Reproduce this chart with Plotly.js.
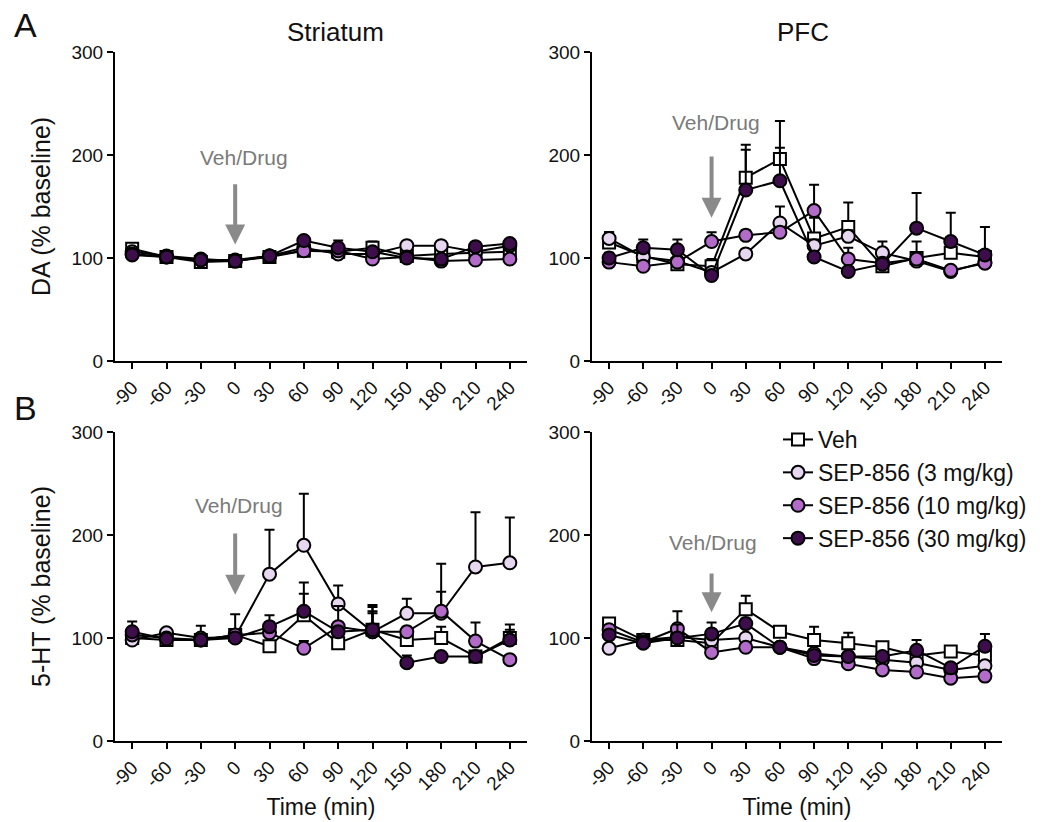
<!DOCTYPE html>
<html>
<head>
<meta charset="utf-8">
<script src="https://cdn.plot.ly/plotly-3.0.1.min.js"></script>
<style>html,body{margin:0;padding:0;background:#fff;}#chart{width:1042px;height:822px;}</style>
</head>
<body>
<div id="chart"></div>
<script>
// ---------- data ----------
const times = [-90, -60, -30, 0, 30, 60, 90, 120, 150, 180, 210, 240];
const tickLabels = ["-90", "-60", "-30", "0", "30", "60", "90", "120", "150", "180", "210", "240"];
const groups = ["Veh", "SEP-856 (3 mg/kg)", "SEP-856 (10 mg/kg)", "SEP-856 (30 mg/kg)"];

// DA, Striatum
const daStrVeh = [109, 101, 96, 97, 101, 107, 106, 110, 102, 104, 105, 106];
const daStr3   = [106, 102, 99, 97, 102, 110, 104, 104, 112, 112, 106, 112];
const daStr10  = [104, 101, 98, 98, 102, 107, 107, 99, 101, 97, 98, 99];
const daStr30  = [103, 101, 98, 97, 102, 117, 110, 106, 100, 99, 111, 114];
const daStrVehErr = [4, 3, 3, 3, 3, 4, 5, 6, 3, 3, 4, 4];
const daStr3Err   = [3, 3, 3, 3, 3, 4, 4, 3, 3, 3, 3, 3];
const daStr10Err  = [3, 3, 3, 3, 3, 3, 3, 3, 3, 3, 3, 3];
const daStr30Err  = [4, 3, 3, 3, 3, 4, 7, 4, 3, 3, 4, 3];

// DA, PFC
const daPfcVeh = [115, 102, 94, 92, 178, 196, 119, 130, 92, 100, 105, 101];
const daPfc3   = [119, 101, 97, 86, 104, 134, 112, 121, 105, 97, 87, 96];
const daPfc10  = [96, 92, 96, 116, 122, 125, 146, 99, 95, 99, 88, 95];
const daPfc30  = [100, 110, 108, 83, 166, 175, 101, 87, 94, 129, 116, 103];
const daPfcVehErr = [10, 5, 4, 7, 32, 37, 20, 24, 10, 16, 6, 5];
const daPfc3Err   = [6, 4, 4, 4, 4, 16, 6, 6, 11, 5, 4, 4];
const daPfc10Err  = [4, 4, 4, 9, 5, 5, 25, 11, 4, 5, 4, 4];
const daPfc30Err  = [5, 8, 10, 4, 39, 32, 5, 4, 5, 34, 28, 27];

// 5-HT, Striatum
const htStrVeh = [100, 98, 98, 103, 92, 122, 95, 108, 98, 100, 82, 100];
const htStr3   = [98, 105, 100, 101, 162, 190, 133, 106, 124, 124, 169, 173];
const htStr10  = [103, 100, 98, 103, 105, 90, 111, 106, 106, 126, 97, 79];
const htStr30  = [106, 99, 98, 100, 111, 126, 106, 108, 76, 82, 82, 98];
const htStrVehErr = [5, 4, 14, 20, 5, 21, 5, 22, 5, 11, 4, 13];
const htStr3Err   = [5, 3, 4, 5, 43, 50, 18, 20, 14, 21, 53, 44];
const htStr10Err  = [5, 3, 4, 5, 5, 7, 20, 18, 5, 46, 18, 4];
const htStr30Err  = [10, 3, 4, 5, 11, 28, 5, 24, 7, 4, 4, 10];

// 5-HT, PFC
const htPfcVeh = [114, 98, 98, 95, 128, 106, 98, 95, 91, 83, 87, 83];
const htPfc3   = [90, 98, 101, 98, 100, 91, 85, 82, 79, 76, 69, 73];
const htPfc10  = [108, 96, 109, 86, 91, 91, 80, 75, 69, 67, 61, 63];
const htPfc30  = [103, 95, 100, 104, 114, 91, 83, 82, 82, 88, 71, 92];
const htPfcVehErr = [3, 3, 4, 5, 13, 4, 13, 10, 5, 5, 4, 5];
const htPfc3Err   = [3, 3, 3, 4, 4, 3, 3, 3, 3, 3, 3, 3];
const htPfc10Err  = [4, 3, 17, 4, 4, 3, 3, 3, 3, 3, 3, 3];
const htPfc30Err  = [4, 3, 13, 11, 5, 3, 4, 4, 4, 10, 4, 12];

// ---------- styling ----------
const FONT = "Liberation Sans, Arial, sans-serif";
const fills = ["#ffffff", "#e6d6ef", "#b36bc9", "#3e0d4c"];
const symbols = ["square", "circle", "circle", "circle"];
const zeros = times.map(() => 0);

const panels = [
  {xa: "x",  ya: "y",  series: [daStrVeh, daStr3, daStr10, daStr30], errs: [daStrVehErr, daStr3Err, daStr10Err, daStr30Err], legend: false},
  {xa: "x2", ya: "y2", series: [daPfcVeh, daPfc3, daPfc10, daPfc30], errs: [daPfcVehErr, daPfc3Err, daPfc10Err, daPfc30Err], legend: false},
  {xa: "x3", ya: "y3", series: [htStrVeh, htStr3, htStr10, htStr30], errs: [htStrVehErr, htStr3Err, htStr10Err, htStr30Err], legend: false},
  {xa: "x4", ya: "y4", series: [htPfcVeh, htPfc3, htPfc10, htPfc30], errs: [htPfcVehErr, htPfc3Err, htPfc10Err, htPfc30Err], legend: true}
];

const traces = [];
panels.forEach(p => {
  p.series.forEach((vals, i) => {
    traces.push({
      type: "scatter", mode: "lines+markers",
      x: times, y: vals, xaxis: p.xa, yaxis: p.ya,
      name: groups[i], showlegend: p.legend, legendgroup: "g" + i,
      line: {color: "#000", width: 2},
      marker: {symbol: symbols[i], size: i === 0 ? 12 : 13, color: fills[i], line: {color: "#000", width: 2}},
      error_y: {type: "data", symmetric: false, array: p.errs[i], arrayminus: zeros, color: "#000", thickness: 2, width: 5}
    });
  });
});

function xaxis(domain, anchor, withTitle) {
  const a = {
    domain: domain, anchor: anchor, range: [-105, 255],
    tickmode: "array", tickvals: times, ticktext: tickLabels, tickangle: -45,
    ticks: "outside", ticklen: 6, tickwidth: 2, tickcolor: "#000",
    showline: true, linecolor: "#000", linewidth: 2, showgrid: false, zeroline: false,
    tickfont: {family: FONT, size: 19, color: "#111"}, automargin: false
  };
  if (withTitle) a.title = {text: "Time (min)", font: {family: FONT, size: 23, color: "#111"}, standoff: 2};
  return a;
}
function yaxis(domain, anchor, title) {
  const a = {
    domain: domain, anchor: anchor, range: [0, 300], tickvals: [0, 100, 200, 300],
    ticks: "outside", ticklen: 6, tickwidth: 2, tickcolor: "#000",
    showline: true, linecolor: "#000", linewidth: 2, showgrid: false, zeroline: false,
    tickfont: {family: FONT, size: 19, color: "#111"}, automargin: false
  };
  if (title) a.title = {text: title, font: {family: FONT, size: 25, color: "#111"}, standoff: 14};
  return a;
}

const W = 1042, H = 822;
const xL = [115 / W, 527 / W], xR = [592 / W, 1002 / W];
const yT = [(H - 361) / H, (H - 52) / H], yB = [(H - 741) / H, (H - 432) / H];

const arrowColor = "#8a8a8a";
function vehDrug(xa, ya, tx, ty, tailY, tipY) {
  return [
    {xref: xa, yref: ya, x: tx, y: ty, text: "Veh/Drug", showarrow: false,
     font: {family: FONT, size: 21, color: "#7a7a7a"}},
    {xref: xa, yref: ya, x: 0, y: tipY, axref: xa, ayref: ya, ax: 0, ay: tailY, text: "",
     showarrow: true, arrowhead: 2, arrowsize: 1, arrowwidth: 4, arrowcolor: arrowColor, standoff: 0}
  ];
}

function label(px, py, text, size) {
  return {xref: "paper", yref: "paper", x: px / W, y: 1 - py / H, xanchor: "center", yanchor: "middle",
          text: text, showarrow: false, font: {family: FONT, size: size, color: "#111"}};
}

const annotations = [].concat(
  vehDrug("x", "y", 8, 198, 173, 113),
  vehDrug("x2", "y2", 4, 232, 200, 139),
  vehDrug("x3", "y3", 3, 229, 203, 142),
  vehDrug("x4", "y4", 1, 193, 164, 125),
  [
    label(335, 32, "Striatum", 26),
    label(803, 32, "PFC", 26),
    label(25, 25, "A", 34),
    label(25, 408, "B", 34)
  ]
);

const layout = {
  width: W, height: H, margin: {l: 0, r: 0, t: 0, b: 0},
  paper_bgcolor: "#fff", plot_bgcolor: "#fff",
  font: {family: FONT, color: "#111"},
  xaxis: xaxis(xL, "y", false), yaxis: yaxis(yT, "x", "DA (% baseline)"),
  xaxis2: xaxis(xR, "y2", false), yaxis2: yaxis(yT, "x2", null),
  xaxis3: xaxis(xL, "y3", true), yaxis3: yaxis(yB, "x3", "5-HT (% baseline)"),
  xaxis4: xaxis(xR, "y4", true), yaxis4: yaxis(yB, "x4", null),
  showlegend: true,
  legend: {x: 778 / W, y: 1 - 418 / H, xanchor: "left", yanchor: "top", bgcolor: "rgba(0,0,0,0)",
           font: {family: FONT, size: 23, color: "#111"}, tracegroupgap: 0, itemwidth: 30},
  annotations: annotations
};

Plotly.newPlot("chart", traces, layout, {staticPlot: true, displayModeBar: false});
</script>
</body>
</html>
